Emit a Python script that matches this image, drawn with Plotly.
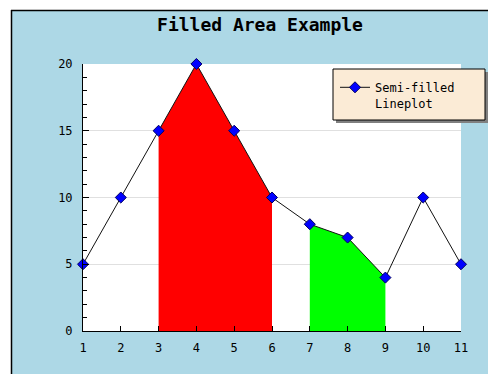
import plotly.graph_objects as go

# ---- data ----
x_vals = [1, 2, 3, 4, 5, 6, 7, 8, 9, 10, 11]
y_vals = [5, 10, 15, 20, 15, 10, 8, 7, 4, 10, 5]
red_range = (3, 6)     # x-range filled red
green_range = (7, 9)   # x-range filled green
x_ticks = [1, 2, 3, 4, 5, 6, 7, 8, 9, 10, 11]
y_ticks = [0, 5, 10, 15, 20]
series_name = "Semi-filled<br>Lineplot"
title_text = "Filled Area Example"

# page body has an 8px margin; the figure is laid out in window pixels
OFF = 8
WIN_W, WIN_H = 496, 374
W, H = WIN_W - OFF, WIN_H - OFF
PL, PR, PT, PB = 83, 461, 64, 331          # plot area in window pixels
L, R, T, B = PL - OFF, WIN_W - PR, PT - OFF, WIN_H - PB
PW, PH = PR - PL, PB - PT


def px(x):
    return (x - PL) / PW


def py(y):
    return (PB - y) / PH


def segment(rng):
    xs = [x for x in x_vals if rng[0] <= x <= rng[1]]
    ys = [y for x, y in zip(x_vals, y_vals) if rng[0] <= x <= rng[1]]
    return xs, ys


fig = go.Figure()
for rng, col in [(red_range, "#ff0000"), (green_range, "#00ff00")]:
    xs, ys = segment(rng)
    fig.add_trace(go.Scatter(x=xs, y=ys, mode="lines", fill="tozeroy",
                             fillcolor=col, line=dict(width=0, color=col),
                             showlegend=False, hoverinfo="skip"))

fig.add_trace(go.Scatter(
    x=x_vals, y=y_vals, mode="lines+markers", name=series_name,
    line=dict(color="#111111", width=1),
    marker=dict(symbol="diamond", size=8.5, color="#0000ff",
                line=dict(color="#000060", width=1)),
    cliponaxis=False))

font_mono = "DejaVu Sans Mono"

shapes = [
    # blue background
    dict(type="rect", xref="paper", yref="paper", layer="below",
         x0=px(11), x1=px(WIN_W + 5), y0=py(WIN_H + 5), y1=py(10),
         fillcolor="#add8e6", line=dict(width=0)),
    # plot area white
    dict(type="rect", xref="paper", yref="paper", layer="below",
         x0=0, x1=1, y0=0, y1=1, fillcolor="white", line=dict(width=0)),
    # frame lines
    dict(type="line", xref="paper", yref="paper", layer="above",
         x0=px(11), x1=px(WIN_W + 5), y0=py(10.5), y1=py(10.5),
         line=dict(color="black", width=1.5)),
    dict(type="line", xref="paper", yref="paper", layer="above",
         x0=px(11.5), x1=px(11.5), y0=py(10), y1=py(WIN_H + 5),
         line=dict(color="black", width=1.5)),
    # legend shadow
    dict(type="rect", xref="paper", yref="paper", layer="above",
         x0=px(336), x1=px(488), y0=py(123), y1=py(72),
         fillcolor="#808080", line=dict(width=0)),
    # legend box
    dict(type="rect", xref="paper", yref="paper", layer="above",
         x0=px(333), x1=px(485), y0=py(120), y1=py(69),
         fillcolor="#fbebd6", line=dict(color="black", width=1)),
]

fig.update_layout(
    width=W, height=H,
    margin=dict(l=L, r=R, t=T, b=B, pad=0),
    paper_bgcolor="white", plot_bgcolor="white",
    title=dict(text=title_text, x=(260 - OFF) / W, xref="container",
               xanchor="center", y=1 - (25 - OFF) / H, yref="container",
               yanchor="middle",
               font=dict(family=font_mono, size=18, color="black", weight="bold")),
    showlegend=True,
    legend=dict(x=px(335), y=py(73), xanchor="left", yanchor="top",
                bgcolor="rgba(0,0,0,0)", borderwidth=0, itemwidth=30,
                valign="top",
                font=dict(family=font_mono, size=12, color="black")),
    shapes=shapes,
    font=dict(family=font_mono, size=12, color="black"),
)

fig.update_xaxes(range=[1, 11], tickvals=x_ticks, ticks="inside", ticklen=5,
                 tickcolor="black", showline=True, linecolor="black",
                 linewidth=1, showgrid=False, zeroline=False,
                 ticklabelstandoff=6, fixedrange=True)
fig.update_yaxes(range=[0, 20], tickvals=y_ticks, ticks="inside", ticklen=6,
                 tickcolor="black", showline=True, linecolor="black",
                 linewidth=1, showgrid=True, gridcolor="#e0e0e0",
                 zeroline=False, ticklabelstandoff=7,
                 minor=dict(dtick=1, ticks="inside", ticklen=4,
                            tickcolor="black", showgrid=False),
                 fixedrange=True)

fig.write_html("out.html")
